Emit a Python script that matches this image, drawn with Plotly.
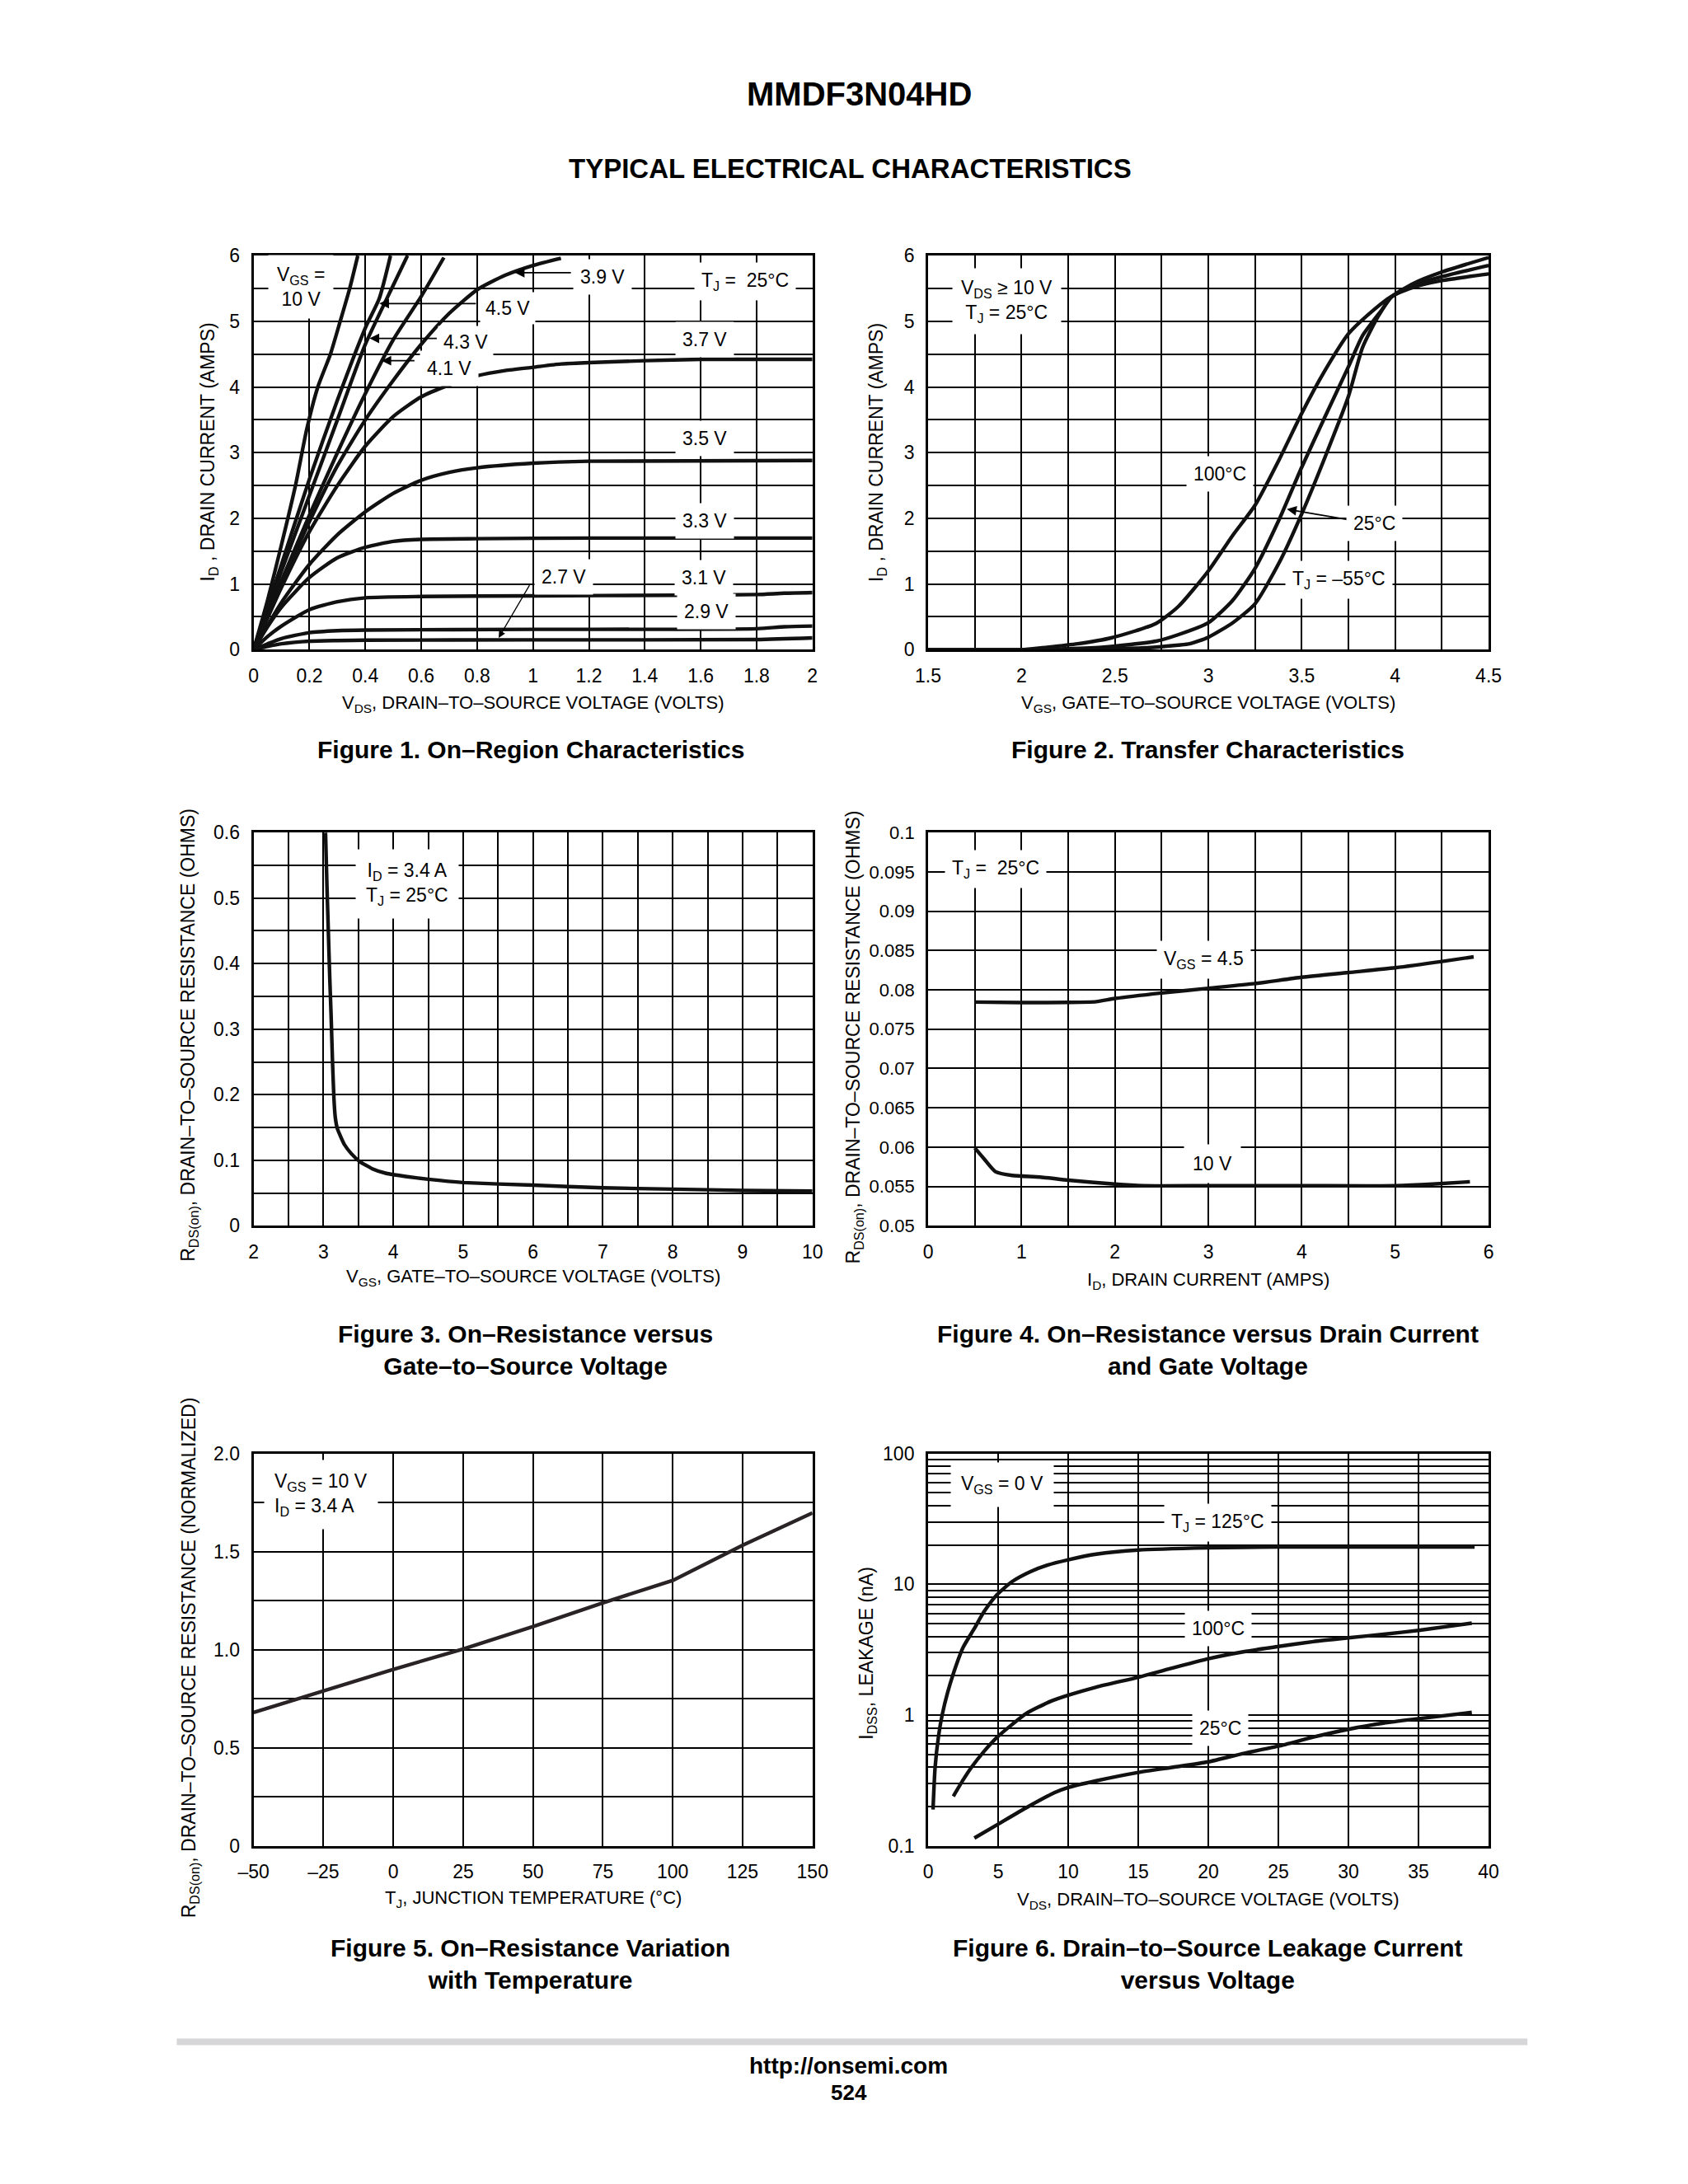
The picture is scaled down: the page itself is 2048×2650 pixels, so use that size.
import math
import plotly.graph_objects as go

# page is 2048x2650; the browser body keeps an 8px margin, so the figure is 16px smaller
PAGE_W, PAGE_H = 2048, 2650
OFF = 8
W, H = PAGE_W - 2 * OFF, PAGE_H - 2 * OFF
FONT = "Liberation Sans, Arial, Helvetica, sans-serif"
BOLD = "Liberation Sans, Arial, Helvetica, sans-serif"

# ---------------- Figure 1 : On-Region Characteristics ----------------
f1_10v_x = [0, 0.05, 0.1, 0.15, 0.19, 0.23, 0.275, 0.31, 0.344, 0.373]
f1_10v_y = [0, 0.75, 1.6, 2.5, 3.35, 4.0, 4.5, 5.0, 5.5, 6.0]
f1_45v_x = [0, 0.1, 0.2, 0.3, 0.4, 0.45, 0.49]
f1_45v_y = [0, 1.3, 2.6, 3.8, 4.9, 5.35, 6.0]
f1_43v_x = [0, 0.1, 0.2, 0.3, 0.4, 0.5, 0.551]
f1_43v_y = [0, 1.2, 2.35, 3.5, 4.65, 5.55, 6.0]
f1_41v_x = [0, 0.1, 0.2, 0.3, 0.4, 0.5, 0.6, 0.681]
f1_41v_y = [0, 1.05, 2.05, 3.0, 3.9, 4.72, 5.38, 5.97]
f1_39v_x = [0, 0.1, 0.2, 0.3, 0.4, 0.5, 0.6, 0.7, 0.8, 0.9, 1.0, 1.1]
f1_39v_y = [0, 1.0, 1.95, 2.8, 3.5, 4.1, 4.65, 5.12, 5.48, 5.7, 5.85, 5.96]
f1_37v_x = [0, 0.1, 0.2, 0.3, 0.4, 0.5, 0.6, 0.7, 0.8, 0.9, 1.0, 1.1, 1.2, 1.4, 1.6, 2.0]
f1_37v_y = [0, 0.95, 1.8, 2.5, 3.1, 3.55, 3.85, 4.03, 4.17, 4.25, 4.3, 4.35, 4.37, 4.4, 4.42, 4.42]
f1_35v_x = [0, 0.1, 0.2, 0.3, 0.4, 0.5, 0.6, 0.7, 0.8, 1.0, 1.2, 2.0]
f1_35v_y = [0, 0.72, 1.3, 1.75, 2.1, 2.38, 2.58, 2.7, 2.77, 2.84, 2.87, 2.88]
f1_33v_x = [0, 0.05, 0.1, 0.2, 0.3, 0.4, 0.5, 0.6, 0.8, 1.2, 2.0]
f1_33v_y = [0, 0.35, 0.65, 1.1, 1.4, 1.56, 1.65, 1.68, 1.69, 1.70, 1.70]
f1_31v_x = [0, 0.05, 0.1, 0.2, 0.3, 0.4, 0.6, 1.0, 1.5, 1.8, 1.9, 2.0]
f1_31v_y = [0, 0.2, 0.36, 0.61, 0.73, 0.79, 0.81, 0.82, 0.83, 0.84, 0.86, 0.87]
f1_29v_x = [0, 0.05, 0.1, 0.2, 0.3, 0.4, 1.0, 1.8, 1.9, 2.0]
f1_29v_y = [0, 0.09, 0.17, 0.26, 0.29, 0.30, 0.31, 0.32, 0.35, 0.36]
f1_27v_x = [0, 0.05, 0.1, 0.2, 0.3, 0.4, 1.0, 1.8, 2.0]
f1_27v_y = [0, 0.05, 0.09, 0.13, 0.14, 0.145, 0.15, 0.155, 0.18]

# ---------------- Figure 2 : Transfer Characteristics ----------------
f2_100c_x = [1.5, 2.0, 2.11, 2.3, 2.48, 2.72, 2.84, 3.0, 3.13, 3.25, 3.38, 3.5, 3.62, 3.75, 3.855, 3.98, 4.1, 4.25, 4.5]
f2_100c_y = [0, 0, 0.03, 0.09, 0.18, 0.4, 0.66, 1.2, 1.74, 2.2, 2.9, 3.6, 4.23, 4.81, 5.1, 5.38, 5.52, 5.62, 5.72]
f2_25c_x = [1.5, 2.1, 2.2, 2.44, 2.72, 2.84, 3.0, 3.13, 3.25, 3.38, 3.5, 3.62, 3.75, 3.825, 3.93, 3.98, 4.1, 4.25, 4.5]
f2_25c_y = [0, 0, 0.01, 0.04, 0.13, 0.23, 0.41, 0.75, 1.24, 1.99, 2.78, 3.52, 4.31, 4.78, 5.18, 5.37, 5.55, 5.68, 5.85]
f2_m55c_x = [1.5, 2.3, 2.44, 2.67, 2.84, 2.9, 3.0, 3.13, 3.25, 3.38, 3.5, 3.62, 3.75, 3.825, 3.91, 3.98, 4.1, 4.25, 4.5]
f2_m55c_y = [0, 0, 0.01, 0.03, 0.07, 0.09, 0.19, 0.41, 0.7, 1.33, 2.07, 2.9, 3.86, 4.6, 5.08, 5.37, 5.58, 5.75, 5.97]

# ---------------- Figure 3 : RDS(on) vs VGS ----------------
f3_vgs = [3.03, 3.05, 3.07, 3.09, 3.11, 3.13, 3.15, 3.17, 3.2, 3.3, 3.4, 3.52, 3.7, 3.9, 4.2, 4.5, 5.0, 6.0, 7.0, 8.0, 9.0, 10.0]
f3_rds = [0.6, 0.52, 0.45, 0.38, 0.32, 0.25, 0.195, 0.165, 0.148, 0.124, 0.11, 0.098, 0.087, 0.08, 0.075, 0.071, 0.066, 0.062, 0.058, 0.056, 0.054, 0.053]

# ---------------- Figure 4 : RDS(on) vs ID ----------------
f4_45v_id = [0.5, 1.0, 1.5, 1.8, 2.0, 2.5, 3.0, 3.5, 4.0, 4.5, 5.0, 5.5, 5.84]
f4_45v_r = [0.07845, 0.07838, 0.0784, 0.0785, 0.0789, 0.0796, 0.0802, 0.0808, 0.0816, 0.0822, 0.0828, 0.0836, 0.0842]
f4_10v_id = [0.5, 0.6, 0.72, 0.9, 1.2, 1.5, 2.0, 2.3, 3.0, 4.0, 5.0, 5.4, 5.8]
f4_10v_r = [0.0599, 0.0585, 0.0569, 0.0564, 0.0562, 0.0558, 0.0553, 0.0551, 0.0551, 0.0551, 0.0551, 0.0553, 0.0556]

# ---------------- Figure 5 : RDS(on) vs temperature ----------------
f5_tj = [-50, -25, 0, 25, 50, 75, 100, 125, 150]
f5_r = [0.68, 0.79, 0.90, 1.004, 1.118, 1.239, 1.353, 1.532, 1.697]

# ---------------- Figure 6 : IDSS leakage ----------------
f6_125c_v = [0.35, 0.5, 0.75, 1.0, 1.4, 2.0, 2.5, 3.3, 4.0, 4.9, 6.0, 7.3, 8.5, 10, 12, 15, 20, 25, 30, 35, 39]
f6_125c_i = [0.19, 0.4, 0.7, 1.0, 1.5, 2.4, 3.3, 4.6, 6.2, 8.3, 10.5, 12.5, 14.0, 15.4, 17.0, 18.3, 19.0, 19.3, 19.3, 19.3, 19.3]
f6_100c_v = [1.8, 2.5, 3.1, 4, 5, 6, 7, 8.7, 10, 12, 15, 17.5, 20, 22.5, 25, 27.5, 30, 32.5, 35, 38.8]
f6_100c_i = [0.24, 0.32, 0.40, 0.53, 0.69, 0.85, 1.03, 1.27, 1.42, 1.64, 1.95, 2.3, 2.7, 3.05, 3.35, 3.65, 3.9, 4.15, 4.45, 5.05]
f6_25c_v = [3.3, 5, 7, 9, 10, 12, 15, 17.5, 20, 22.5, 25, 27.5, 30, 32.5, 35, 38.8]
f6_25c_i = [0.115, 0.147, 0.196, 0.255, 0.28, 0.315, 0.365, 0.4, 0.44, 0.51, 0.58, 0.68, 0.78, 0.87, 0.94, 1.05]
f6_ticks = [0.1, 0.2, 0.3, 0.4, 0.5, 0.6, 0.7, 0.8, 0.9, 1, 2, 3, 4, 5, 6, 7, 8, 9,
            10, 20, 30, 40, 50, 60, 70, 80, 90, 100]
f6_ticktext = ["0.1"] + [""] * 8 + ["1"] + [""] * 8 + ["10"] + [""] * 8 + ["100"]

f5_xticks = [-50, -25, 0, 25, 50, 75, 100, 125, 150]
f5_xtext = ["\u201350", "\u201325", "0", "25", "50", "75", "100", "125", "150"]
f5_yticks = [0, 0.5, 1.0, 1.5, 2.0]
f5_ytext = ["0", "0.5", "1.0", "1.5", "2.0"]

# ---------------- layout geometry (given in page pixels) ----------------
def px_x(v):
    return (v - OFF) / W

def px_y(v):
    return 1 - (v - OFF) / H

COLS = [[px_x(294), px_x(985)], [px_x(1128), px_x(1821)]]
ROWS = [[px_y(783), px_y(300)], [px_y(1489), px_y(1007)], [px_y(2249), px_y(1768)]]

fig = go.Figure()

LW = 4.4
BLACK = "#111111"
LOG_PANELS = {6}

def add_line(x, y, n, color=BLACK, width=LW, shape="spline", smooth=0.6):
    xa = "x" if n == 1 else f"x{n}"
    ya = "y" if n == 1 else f"y{n}"
    line = dict(color=color, width=width, shape=shape)
    if shape == "spline":
        line["smoothing"] = smooth
    fig.add_trace(go.Scatter(x=x, y=y, mode="lines", line=line, xaxis=xa, yaxis=ya,
                             showlegend=False, hoverinfo="skip"))

for xs, ys in [(f1_10v_x, f1_10v_y), (f1_45v_x, f1_45v_y), (f1_43v_x, f1_43v_y),
               (f1_41v_x, f1_41v_y), (f1_39v_x, f1_39v_y), (f1_37v_x, f1_37v_y),
               (f1_35v_x, f1_35v_y), (f1_33v_x, f1_33v_y), (f1_31v_x, f1_31v_y),
               (f1_29v_x, f1_29v_y), (f1_27v_x, f1_27v_y)]:
    add_line(xs, ys, 1)

for xs, ys in [(f2_100c_x, f2_100c_y), (f2_25c_x, f2_25c_y), (f2_m55c_x, f2_m55c_y)]:
    add_line(xs, ys, 2)

add_line(f3_vgs, f3_rds, 3, smooth=0.4)
add_line(f4_45v_id, f4_45v_r, 4)
add_line(f4_10v_id, f4_10v_r, 4)
add_line(f5_tj, f5_r, 5, color="#2a2326", shape="linear")
add_line(f6_125c_v, f6_125c_i, 6)
add_line(f6_100c_v, f6_100c_i, 6)
add_line(f6_25c_v, f6_25c_i, 6)

TICKFONT = dict(family=FONT, size=23, color="black")
GW = 1.7

def axis_common(fs=23):
    return dict(showline=True, linewidth=3, linecolor="black", mirror=True,
                showgrid=True, gridcolor="black", gridwidth=GW, zeroline=False,
                ticks="", tickfont=dict(TICKFONT, size=fs), ticklabelstandoff=9, fixedrange=True)

def minor(d):
    return dict(dtick=d, showgrid=True, gridcolor="black", gridwidth=GW, ticks="")

axes = {}
axes["xaxis"] = dict(axis_common(), domain=COLS[0], range=[0, 2], dtick=0.2, tick0=0, anchor="y")
axes["yaxis"] = dict(axis_common(), domain=ROWS[0], range=[0, 6], dtick=1, minor=minor(0.5), anchor="x")
axes["xaxis2"] = dict(axis_common(), domain=COLS[1], range=[1.5, 4.5], dtick=0.5, tick0=1.5, minor=minor(0.25), anchor="y2")
axes["yaxis2"] = dict(axis_common(), domain=ROWS[0], range=[0, 6], dtick=1, minor=minor(0.5), anchor="x2")
axes["xaxis3"] = dict(axis_common(), domain=COLS[0], range=[2, 10], dtick=1, minor=minor(0.5), anchor="y3")
axes["yaxis3"] = dict(axis_common(), domain=ROWS[1], range=[0, 0.6], dtick=0.1, minor=minor(0.05), anchor="x3")
axes["xaxis4"] = dict(axis_common(), domain=COLS[1], range=[0, 6], dtick=1, minor=minor(0.5), anchor="y4")
axes["yaxis4"] = dict(axis_common(22), domain=ROWS[1], range=[0.05, 0.1], dtick=0.005, tick0=0.05, anchor="x4")
axes["xaxis5"] = dict(axis_common(), domain=COLS[0], range=[-50, 150], tickmode="array",
                      tickvals=f5_xticks, ticktext=f5_xtext, anchor="y5")
axes["yaxis5"] = dict(axis_common(), domain=ROWS[2], range=[0, 2.0], tickmode="array",
                      tickvals=f5_yticks, ticktext=f5_ytext,
                      minor=dict(tickvals=[0.25, 0.75, 1.25, 1.75], showgrid=True,
                                 gridcolor="black", gridwidth=GW, ticks=""), anchor="x5")
axes["xaxis6"] = dict(axis_common(), domain=COLS[1], range=[0, 40], dtick=5, anchor="y6")
axes["yaxis6"] = dict(axis_common(), domain=ROWS[2], type="log", range=[-1, 2], tickmode="array",
                      tickvals=f6_ticks, ticktext=f6_ticktext, anchor="x6")

ann = []
LF = 23

def _yv(n, y):
    return math.log10(y) if n in LOG_PANELS else y

def label(n, x, y, text, size=LF, bg="white", pad=6, align="center"):
    xr = "x" if n == 1 else f"x{n}"
    yr = "y" if n == 1 else f"y{n}"
    ann.append(dict(x=x, y=_yv(n, y), xref=xr, yref=yr, text=text, showarrow=False,
                    font=dict(family=FONT, size=size, color="black"),
                    bgcolor=bg, borderpad=pad, align=align))

def arrow(n, x, y, ax, ay, width=1.8, head=2, size=1.3):
    xr = "x" if n == 1 else f"x{n}"
    yr = "y" if n == 1 else f"y{n}"
    ann.append(dict(x=x, y=_yv(n, y), ax=ax, ay=_yv(n, ay), xref=xr, yref=yr, axref=xr, ayref=yr,
                    text="", showarrow=True, arrowhead=head, arrowsize=size,
                    arrowwidth=width, arrowcolor="black", standoff=0))

def page_text(x, y, text, size, family=BOLD, angle=0, color="black"):
    ann.append(dict(x=px_x(x), y=px_y(y), xref="paper", yref="paper", text=text,
                    showarrow=False, textangle=angle, xanchor="center", yanchor="middle",
                    font=dict(family=family, size=size, color=color)))

# Fig 1 labels
label(1, 0.17, 5.53, "V<sub>GS</sub> =<br>10 V", pad=10)
arrow(1, 0.935, 5.74, 1.14, 5.74)
label(1, 1.25, 5.68, "3.9 V", pad=8)
label(1, 1.76, 5.6, "T<sub>J</sub> =  25\u00b0C", pad=8)
arrow(1, 0.45, 5.27, 0.8, 5.27)
label(1, 0.91, 5.2, "4.5 V", pad=6)
arrow(1, 0.415, 4.74, 0.66, 4.74)
label(1, 0.76, 4.68, "4.3 V", pad=6)
arrow(1, 0.458, 4.4, 0.58, 4.4)
label(1, 0.70, 4.28, "4.1 V", pad=8)
label(1, 1.615, 4.72, "3.7 V", pad=8)
label(1, 1.615, 3.22, "3.5 V", pad=8)
label(1, 1.615, 1.96, "3.3 V", pad=8)
label(1, 1.61, 1.09, "3.1 V", pad=8)
label(1, 1.62, 0.58, "2.9 V", pad=8)
label(1, 1.11, 1.11, "2.7 V", pad=8)
arrow(1, 0.877, 0.18, 0.99, 1.0, width=1.3)

# Fig 2 labels
label(2, 1.92, 5.3, "V<sub>DS</sub> \u2265 10 V<br>T<sub>J</sub> = 25\u00b0C", pad=10)
label(2, 3.06, 2.68, "100\u00b0C", pad=8)
arrow(2, 3.42, 2.14, 3.75, 1.98)
label(2, 3.89, 1.92, "25\u00b0C", pad=8)
label(2, 3.70, 1.06, "T<sub>J</sub> = \u201355\u00b0C", pad=8)

# Fig 3 labels
label(3, 4.2, 0.522, "I<sub>D</sub> = 3.4 A<br>T<sub>J</sub> = 25\u00b0C", pad=12)

# Fig 4 labels
label(4, 0.72, 0.0954, "T<sub>J</sub> =  25\u00b0C", pad=8)
label(4, 2.95, 0.0838, "V<sub>GS</sub> = 4.5", pad=8)
label(4, 3.04, 0.0579, "10 V", pad=10)

# Fig 5 labels
label(5, -26, 1.79, "V<sub>GS</sub> = 10 V<br>I<sub>D</sub> = 3.4 A", pad=12, align="left")

# Fig 6 labels (log axis)
label(6, 5.3, 58, "V<sub>GS</sub> = 0 V", pad=12)
label(6, 20.7, 29.6, "T<sub>J</sub> = 125\u00b0C", pad=8)
label(6, 20.7, 4.6, "100\u00b0C", pad=8)
label(6, 20.85, 0.79, "25\u00b0C", pad=8)

# Axis titles
XT, YT = 22, 23
page_text(640, 849, "V<sub>DS</sub>, DRAIN\u2013TO\u2013SOURCE VOLTAGE (VOLTS)", XT, FONT)
page_text(239, 541, "I<sub>D</sub> , DRAIN CURRENT (AMPS)", YT, FONT, angle=-90)
page_text(1474, 849, "V<sub>GS</sub>, GATE\u2013TO\u2013SOURCE VOLTAGE (VOLTS)", XT, FONT)
page_text(1066, 541, "I<sub>D</sub> , DRAIN CURRENT (AMPS)", YT, FONT, angle=-90)
page_text(640, 1552, "V<sub>GS</sub>, GATE\u2013TO\u2013SOURCE VOLTAGE (VOLTS)", XT, FONT)
page_text(215, 1255, "R<sub>DS(on)</sub>, DRAIN\u2013TO\u2013SOURCE RESISTANCE (OHMS)", YT, FONT, angle=-90)
page_text(1474, 1556, "I<sub>D</sub>, DRAIN CURRENT (AMPS)", XT, FONT)
page_text(1037, 1258, "R<sub>DS(on)</sub>, DRAIN\u2013TO\u2013SOURCE RESISTANCE (OHMS)", YT, FONT, angle=-90)
page_text(640, 2314, "T<sub>J</sub>, JUNCTION TEMPERATURE (\u00b0C)", XT, FONT)
page_text(215, 2018, "R<sub>DS(on)</sub>, DRAIN\u2013TO\u2013SOURCE RESISTANCE (NORMALIZED)", YT, FONT, angle=-90)
page_text(1474, 2316, "V<sub>DS</sub>, DRAIN\u2013TO\u2013SOURCE VOLTAGE (VOLTS)", XT, FONT)
page_text(1053, 2012, "I<sub>DSS</sub>, LEAKAGE (nA)", YT, FONT, angle=-90)

# Captions
CF = 30
page_text(637, 905, "<b>Figure 1. On\u2013Region Characteristics</b>", CF)
page_text(1474, 905, "<b>Figure 2. Transfer Characteristics</b>", CF)
page_text(630, 1641, "<b>Figure 3. On\u2013Resistance versus<br>Gate\u2013to\u2013Source Voltage</b>", CF)
page_text(1474, 1641, "<b>Figure 4. On\u2013Resistance versus Drain Current<br>and Gate Voltage</b>", CF)
page_text(636, 2394, "<b>Figure 5. On\u2013Resistance Variation<br>with Temperature</b>", CF)
page_text(1474, 2394, "<b>Figure 6. Drain\u2013to\u2013Source Leakage Current<br>versus Voltage</b>", CF)

# Page header / footer
page_text(1043, 102, "<b>MMDF3N04HD</b>", 40)
page_text(1032, 193, "<b>TYPICAL ELECTRICAL CHARACTERISTICS</b>", 33)
page_text(1030, 2518, "<b>http://onsemi.com</b>", 28)
page_text(1030, 2551, "<b>524</b>", 26)

shapes = [dict(type="line", xref="paper", yref="paper", x0=px_x(199), x1=px_x(1869),
               y0=px_y(2489), y1=px_y(2489), line=dict(color="#d6d6d9", width=8))]

fig.update_layout(
    width=W, height=H, margin=dict(l=0, r=0, t=0, b=0),
    paper_bgcolor="white", plot_bgcolor="white", showlegend=False,
    annotations=ann, shapes=shapes, **axes,
)

fig.write_html("out.html", config={"displayModeBar": False})
